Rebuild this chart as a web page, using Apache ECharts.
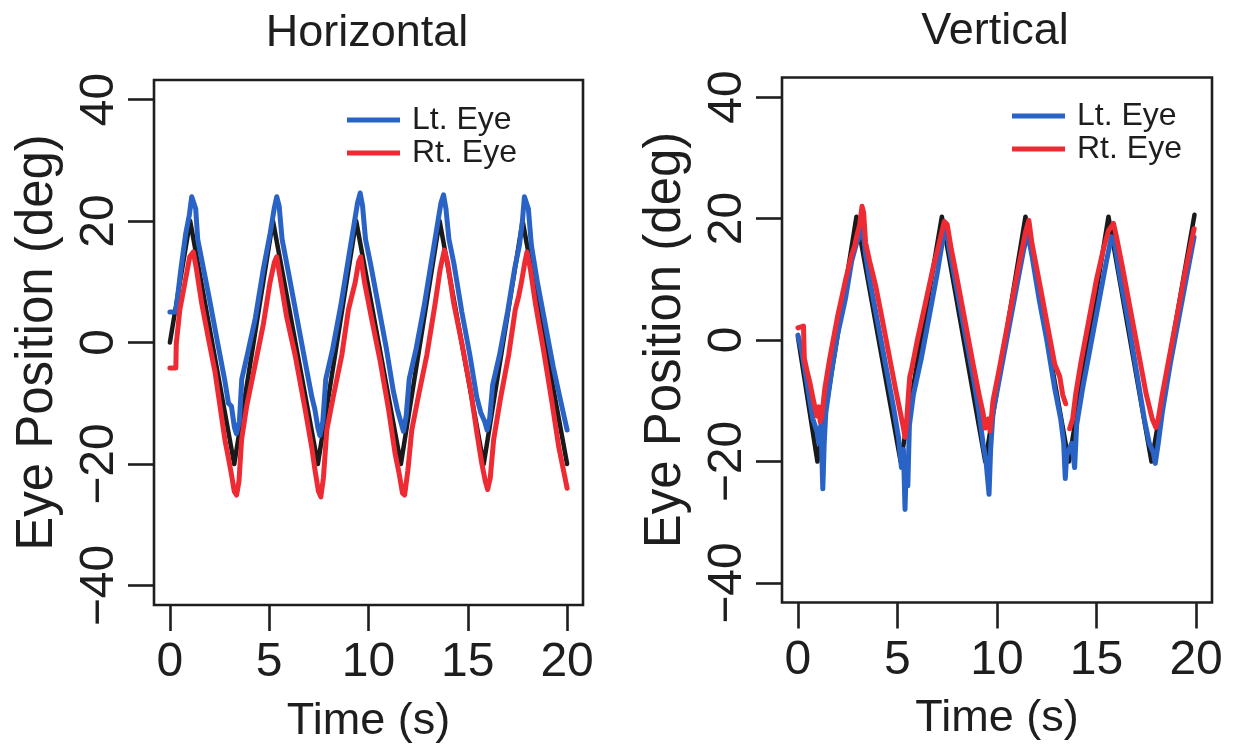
<!DOCTYPE html>
<html>
<head>
<meta charset="utf-8">
<script src="https://cdn.jsdelivr.net/npm/echarts@6/dist/echarts.min.js"></script>
<style>html,body{margin:0;padding:0;background:#fff}#c{width:1236px;height:751px}</style>
</head>
<body>
<div id="c"></div>
<script>
// ---- Data ----
const xTicks = [0, 5, 10, 15, 20];
const yTicks = [-40, -20, 0, 20, 40];

// Horizontal panel
const hTgtT = [0, 1.02, 3.24, 5.19, 7.45, 9.38, 11.63, 13.58, 15.8, 17.76, 20];
const hTgtV = [0, 20, -20, 20, -20, 20, -20, 20, -20, 20, -20];

const hLtT = [0,0.3,0.35,0.55,0.8,0.98,1.1,1.2,1.3,1.4,1.7,2.0,2.4,2.75,2.95,3.1,3.25,3.35,3.5,3.62,3.9,4.3,4.7,5.05,5.25,5.38,5.5,5.65,6.0,6.4,6.8,7.15,7.3,7.45,7.55,7.7,7.85,8.2,8.6,9.0,9.3,9.45,9.58,9.7,9.85,10.1,10.5,10.9,11.25,11.45,11.62,11.76,11.9,12.05,12.4,12.8,13.2,13.5,13.65,13.78,13.9,14.05,14.3,14.7,15.1,15.45,15.65,15.85,15.97,16.1,16.25,16.6,17.0,17.35,17.6,17.75,17.85,17.95,18.05,18.2,18.5,18.9,19.3,19.7,20.0];
const hLtV = [5.0,5.0,6.5,12,18,21,24,24.3,22,17,12,7,0,-6,-10,-10.5,-14,-15,-13,-6,-2,4,12,18,22,24,22.5,17,11,4,-3,-9,-11,-14,-15.3,-13,-6,-1,6,14,20,23,24.6,22.5,17,13,6,-1,-8,-11,-13,-14.6,-12,-6,-1,6,14,20,23,24.3,22,17,13,5,-2,-9,-11.5,-13,-14.4,-12.5,-7,-2,5,12,16,20,24,24.3,22,16,10,3,-4,-10,-14.4];

const hRtT = [0,0.3,0.32,0.5,0.76,1.0,1.18,1.34,1.6,1.93,2.27,2.52,2.77,2.94,3.1,3.24,3.36,3.48,3.61,3.87,4.29,4.71,5.04,5.26,5.38,5.55,5.88,6.3,6.81,7.14,7.31,7.48,7.6,7.73,7.9,8.24,8.66,8.99,9.33,9.5,9.61,9.8,10.17,10.59,11.01,11.34,11.55,11.71,11.82,11.98,12.18,12.52,12.94,13.36,13.61,13.82,13.98,14.29,14.71,15.13,15.46,15.71,15.88,16.0,16.13,16.3,16.64,17.06,17.39,17.56,17.7,17.87,17.98,18.15,18.4,18.82,19.24,19.58,20.0];
const hRtV = [-4.2,-4.2,-0.3,5.4,9.9,14.1,14.9,12,6.5,0.8,-4.8,-10.4,-16,-18.9,-21.7,-24.5,-25.1,-22.8,-16,-10.4,-3.7,3.1,9.9,13.2,14.1,10.7,4.2,-2,-11,-17.2,-21.1,-24.5,-25.4,-22.3,-14.4,-8.7,-2,5.4,9.9,13.2,14.1,9.9,3.7,-3.1,-11,-18.3,-21.7,-24.8,-25.1,-21.1,-14.4,-8.7,-2,6.5,12.1,15.2,13.2,6.5,-0.3,-7.6,-14.9,-20,-22.8,-24.2,-22.3,-16,-9.3,-2,5.4,7.6,9.9,13.2,14.9,12.1,6.5,-1.4,-9.9,-17.2,-24];

// Vertical panel
const vTgtT = [0, 0.98, 2.94, 5.16, 7.23, 9.41, 11.43, 13.61, 15.6, 17.76, 19.92];
const vTgtV = [0.5, -20, 20.3, -20, 20.3, -20, 20.3, -20, 20.3, -20, 20.6];

const vLtT = [0,0.2,0.5,0.75,0.95,1.05,1.15,1.2,1.25,1.32,1.4,1.7,2.0,2.4,2.7,2.95,3.1,3.25,3.4,3.6,4.0,4.4,4.8,5.05,5.2,5.3,5.38,5.45,5.52,5.6,5.8,6.2,6.6,7.0,7.3,7.45,7.6,8.0,8.4,8.8,9.1,9.3,9.45,9.6,9.68,9.8,10.2,10.6,11.0,11.35,11.55,11.75,12.1,12.5,12.9,13.2,13.35,13.43,13.5,13.62,13.75,13.9,14.0,14.3,14.7,15.1,15.5,15.75,15.9,16.2,16.6,17.0,17.4,17.65,17.85,17.95,18.1,18.3,18.7,19.1,19.5,19.9];
const vLtV = [0.8,-2,-8,-13,-15,-17,-14,-19,-24.5,-17,-12,-5,1,7,13,16,17,18.5,14,10,3,-4,-11,-16,-21,-18,-27.9,-20,-24,-14,-9,-3,4,11,17,18.5,15,8,1,-6,-12,-17,-20,-25.4,-18,-12,-5,2,9,15,17.5,14,7,0,-8,-13,-17,-22.8,-19,-18,-17,-21,-14,-8,-1,6,13,17,16,10,3,-5,-13,-17,-18.5,-20.3,-17,-12,-4,3,10,16.9];

const vRtT = [0,0.28,0.32,0.45,0.6,0.75,0.85,0.95,1.05,1.12,1.2,1.35,1.6,2.0,2.4,2.7,2.85,2.95,3.1,3.22,3.3,3.4,3.6,3.9,4.2,4.55,4.9,5.15,5.3,5.38,5.45,5.55,5.62,5.7,6.0,6.4,6.8,7.1,7.35,7.5,7.7,8.0,8.4,8.8,9.1,9.3,9.4,9.55,9.65,9.8,10.1,10.5,10.9,11.2,11.45,11.6,11.75,12.1,12.5,12.9,13.15,13.3,13.45,13.55,13.65,13.8,13.95,14.2,14.6,15.0,15.35,15.6,15.85,16.0,16.3,16.7,17.1,17.5,17.8,17.98,18.1,18.3,18.7,19.1,19.5,19.9];
const vRtV = [2.0,2.3,-3,-5,-7,-9.5,-11,-12.5,-11,-13.5,-12.5,-8,-3,4,10,14,15.5,17,19,22,21,16,13,9,4,-2,-8,-12,-14.5,-16,-14,-9,-6,-5,0,6,12,16,19.5,19,15,10,3,-4,-9,-12,-14.5,-13,-15,-10,-5,2,9,14,18,19.7,16,10,3,-4,-6,-9,-10.5,null,-14.6,-13,-9,-4,3,10,15,18,19.2,17,12,5,-2,-9,-13,-14.4,-13,-9,-2,5,12,18.3];

const panelTitles = ['Horizontal', 'Vertical'];
const legendNames = ['Lt. Eye', 'Rt. Eye'];

// ---- Chart ----
const FONT = '"Liberation Sans", Arial, Helvetica, sans-serif';
const INK = '#1e1e1e';
const BLUE = '#2a63c6';
const RED = '#ee2a33';
const BLACK = '#1a1a1a';
const zip = (t, v) => t.map((x, i) => [x, v[i]]);

const grids = [
  { left: 154, top: 80, width: 429, height: 525 },
  { left: 782, top: 77.5, width: 430, height: 525 }
];

function xAxis(i) {
  return {
    type: 'value', gridIndex: i, min: -0.8, max: 20.8,
    name: 'Time (s)', nameLocation: 'middle', nameGap: 94,
    nameTextStyle: { fontSize: 45, color: INK, fontFamily: FONT },
    axisLine: { show: false, onZero: false },
    axisTick: { show: true, inside: false, length: 26, customValues: xTicks, lineStyle: { width: 2.6, color: INK } },
    axisLabel: { customValues: xTicks, fontSize: 48, color: INK, fontFamily: FONT, margin: 34 },
    splitLine: { show: false }
  };
}
function yAxis(i) {
  return {
    type: 'value', gridIndex: i, min: -43.2, max: 43.2,
    name: 'Eye Position (deg)', nameLocation: 'middle', nameGap: 91,
    nameTextStyle: { fontSize: 51, color: INK, fontFamily: FONT },
    axisLine: { show: false, onZero: false },
    axisTick: { show: true, inside: false, length: 26, customValues: yTicks, lineStyle: { width: 2.6, color: INK } },
    axisLabel: { customValues: yTicks, rotate: 90, fontSize: 48, color: INK, fontFamily: FONT, margin: 30,
      formatter: v => String(v).replace('-', '\u2212') },
    splitLine: { show: false }
  };
}
function line(name, data, color, idx, z, width) {
  return {
    type: 'line', name, data, xAxisIndex: idx, yAxisIndex: idx,
    showSymbol: false, symbol: 'none', z, connectNulls: false,
    lineStyle: { color, width, join: 'round', cap: 'round' }, itemStyle: { color }, animation: false
  };
}
function legend(left, top) {
  return {
    orient: 'vertical', left, top, padding: 0, data: legendNames, icon: 'rect',
    itemWidth: 53, itemHeight: 5, itemGap: 1, selectedMode: false,
    textStyle: { fontSize: 32, color: INK, fontFamily: FONT, padding: [0, 0, 0, 7] }
  };
}

const chart = echarts.init(document.getElementById('c'), null, { renderer: 'canvas' });
chart.setOption({
  backgroundColor: '#fff',
  animation: false,
  title: [
    { text: panelTitles[0], left: 362, top: 6, textAlign: 'center', textStyle: { fontSize: 45, fontWeight: 'normal', color: INK, fontFamily: FONT } },
    { text: panelTitles[1], left: 990, top: 4, textAlign: 'center', textStyle: { fontSize: 45, fontWeight: 'normal', color: INK, fontFamily: FONT } }
  ],
  legend: [legend(347, 104), legend(1012, 100)],
  grid: grids.map(g => Object.assign({ show: true, borderColor: INK, borderWidth: 2.6, backgroundColor: '#fff' }, g)),
  xAxis: [xAxis(0), xAxis(1)],
  yAxis: [yAxis(0), yAxis(1)],
  series: [
    line('Target', zip(hTgtT, hTgtV), BLACK, 0, 1, 4.5),
    line('Lt. Eye', zip(hLtT, hLtV), BLUE, 0, 2, 5),
    line('Rt. Eye', zip(hRtT, hRtV), RED, 0, 3, 5),
    line('Target', zip(vTgtT, vTgtV), BLACK, 1, 1, 4.5),
    line('Lt. Eye', zip(vLtT, vLtV), BLUE, 1, 2, 5),
    line('Rt. Eye', zip(vRtT, vRtV), RED, 1, 3, 5)
  ]
});
</script>
</body>
</html>
